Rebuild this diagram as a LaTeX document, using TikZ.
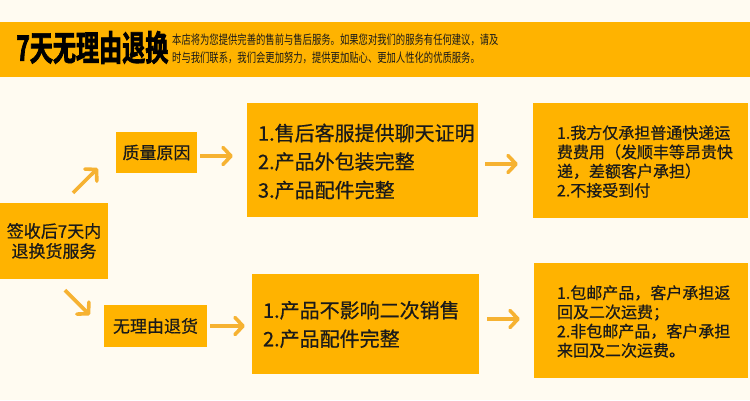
\documentclass[tikz,border=0pt]{standalone}
\usepackage{fontspec}
\setmainfont{Noto Sans CJK SC}
\newfontfamily\condfont[FakeStretch=0.74]{Noto Sans CJK SC}
\newfontfamily\titlefont[FakeStretch=0.66,FakeBold=2]{Noto Sans CJK SC Bold}
\newfontfamily\boxfont[FakeBold=0.6]{Noto Sans CJK SC}
\usetikzlibrary{arrows.meta}

\definecolor{paper}{HTML}{FFFBF1}
\definecolor{band}{HTML}{FFB300}
\definecolor{ink}{HTML}{1A1A1A}
\definecolor{arrowgold}{HTML}{F6B232}

\begin{document}
\begin{tikzpicture}[
  x=1pt,
  y=-1pt,
  box/.style={fill=band,draw=none,inner sep=0pt},
  txt/.style={font=\boxfont\fontsize{20}{28.5}\selectfont,text=ink,align=left,inner sep=0pt},
  small/.style={font=\boxfont\fontsize{16}{19.2}\selectfont,text=ink,align=left,inner sep=0pt},
  tag/.style={font=\boxfont\fontsize{17}{20}\selectfont,text=ink,align=center,inner sep=0pt},
  flow/.style={draw=arrowgold,line width=3.6pt,
    -{Straight Barb[length=8pt,width=17pt,line cap=round,line join=round]}}
]
\useasboundingbox (0,0) rectangle (750,400);
\fill[paper] (0,0) rectangle (750,400);

% banner
\fill[band] (0,22) rectangle (750,77);
\node[anchor=west,inner sep=0pt,text=black,font=\titlefont\fontsize{35}{36}\selectfont]
  (title) at (16,47.5) {7天无理由退换};
\node[anchor=west,inner sep=0pt,text=ink,align=left,font=\condfont\fontsize{12.6}{18.5}\selectfont]
  (intro) at (172,49)
  {本店将为您提供完善的售前与售后服务。如果您对我们的服务有任何建议，请及\\
   时与我们联系，我们会更加努力，提供更加贴心、更加人性化的优质服务。};

% boxes
\node[box,minimum width=108pt,minimum height=76pt] (src) at (54,241) {};
\node[box,minimum width=81pt,minimum height=41pt] (qual) at (156.5,152.5) {};
\node[box,minimum width=103pt,minimum height=42pt] (noreason) at (155.5,326) {};
\node[box,minimum width=231pt,minimum height=114pt] (mid1) at (362.5,160) {};
\node[box,minimum width=227pt,minimum height=100pt] (mid2) at (365.5,324) {};
\node[box,minimum width=215pt,minimum height=115pt] (res1) at (640.5,160.5) {};
\node[box,minimum width=214pt,minimum height=115pt] (res2) at (641,320.5) {};

% texts
\node[tag] at (src.center) {签收后7天内\\退换货服务};
\node[tag] at (qual.center) {质量原因};
\node[tag] at (noreason.center) {无理由退货};
\node[txt,anchor=west] at ([xshift=11pt,yshift=-1.5pt]mid1.west)
  {1.售后客服提供聊天证明\\2.产品外包装完整\\3.产品配件完整};
\node[txt,anchor=west] at ([xshift=11pt,yshift=-0.5pt]mid2.west)
  {1.产品不影响二次销售\\2.产品配件完整};
\node[small,anchor=west] at ([xshift=24pt,yshift=-1pt]res1.west)
  {1.我方仅承担普通快递运\\费费用（发顺丰等昂贵快\\递，差额客户承担）\\2.不接受到付};
\node[small,anchor=west] at ([xshift=23pt,yshift=-1pt]res2.west)
  {1.包邮产品，客户承担返\\回及二次运费；\\2.非包邮产品，客户承担\\来回及二次运费。};

% arrows
\draw[flow] ([xshift=19pt,yshift=10pt]src.north) -- ([xshift=-18pt,yshift=5pt]qual.south west);
\draw[flow] ([xshift=11pt,yshift=-11pt]src.south) -- ([xshift=-14pt,yshift=11pt]noreason.west);
\draw[flow] ([xshift=3pt,yshift=-3.5pt]qual.east) -- ([xshift=-14pt,yshift=4pt]mid1.west);
\draw[flow] ([xshift=3pt]noreason.east) -- ([xshift=-7pt,yshift=-2pt]mid2.west);
\draw[flow] ([xshift=7pt,yshift=-4pt]mid1.east) -- ([xshift=-15pt,yshift=-3.5pt]res1.west);
\draw[flow] ([xshift=8pt,yshift=5pt]mid2.east) -- ([xshift=-14pt,yshift=1.5pt]res2.west);
\end{tikzpicture}
\end{document}
